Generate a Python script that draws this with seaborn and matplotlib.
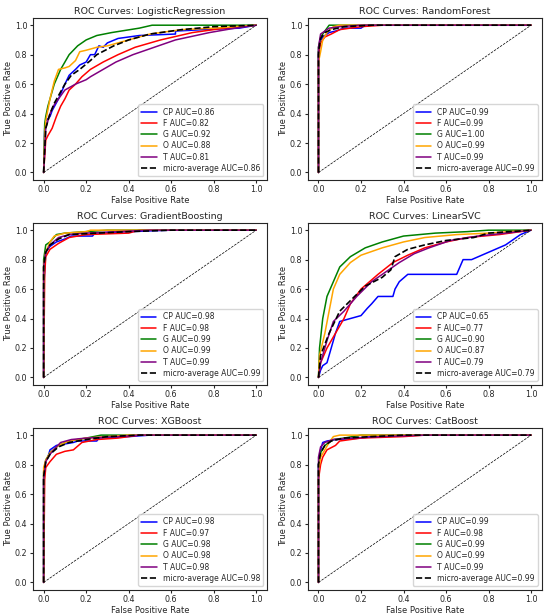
import seaborn as sns
import pandas as pd
import matplotlib
matplotlib.use('Agg')
import matplotlib.pyplot as plt

# models and classes
models = ['LogisticRegression', 'RandomForest', 'GradientBoosting', 'LinearSVC', 'XGBoost', 'CatBoost']
classes = ['CP', 'F', 'G', 'O', 'T']
class_colors = ['blue', 'red', 'green', 'orange', 'purple']

# AUC values read from legends
auc_lr = [0.86, 0.82, 0.92, 0.88, 0.81, 0.86]
auc_rf = [0.99, 0.99, 1.00, 0.99, 0.99, 0.99]
auc_gb = [0.98, 0.98, 0.99, 0.99, 0.99, 0.99]
auc_svc = [0.65, 0.77, 0.90, 0.87, 0.79, 0.79]
auc_xgb = [0.98, 0.97, 0.98, 0.98, 0.98, 0.98]
auc_cat = [0.99, 0.98, 0.99, 0.99, 0.99, 0.99]

# ROC curves as (fpr, tpr), order CP, F, G, O, T, micro
lr_cp = ([0, 0.005, 0.01, 0.03, 0.04, 0.07, 0.1, 0.12, 0.15, 0.17, 0.2, 0.22, 0.24, 0.26, 0.28, 0.3, 0.35, 0.45, 0.62, 0.62, 0.75, 0.92, 1.0],
         [0, 0.3, 0.35, 0.38, 0.42, 0.5, 0.6, 0.66, 0.7, 0.73, 0.75, 0.8, 0.8, 0.86, 0.85, 0.88, 0.91, 0.93, 0.94, 0.96, 0.97, 0.98, 1.0])
lr_f = ([0, 0.01, 0.02, 0.04, 0.06, 0.08, 0.1, 0.12, 0.15, 0.18, 0.22, 0.28, 0.35, 0.43, 0.55, 0.7, 0.85, 1.0],
        [0, 0.22, 0.25, 0.3, 0.38, 0.45, 0.5, 0.56, 0.6, 0.65, 0.7, 0.75, 0.8, 0.85, 0.9, 0.95, 0.98, 1.0])
lr_g = ([0, 0.005, 0.01, 0.02, 0.04, 0.05, 0.08, 0.1, 0.12, 0.14, 0.16, 0.2, 0.25, 0.32, 0.45, 0.51, 1.0],
        [0, 0.33, 0.38, 0.45, 0.55, 0.6, 0.7, 0.75, 0.8, 0.83, 0.86, 0.9, 0.93, 0.95, 0.98, 1.0, 1.0])
lr_o = ([0, 0.005, 0.01, 0.03, 0.05, 0.07, 0.1, 0.12, 0.15, 0.17, 0.2, 0.25, 0.3, 0.4, 0.5, 0.65, 0.8, 1.0],
        [0, 0.25, 0.35, 0.5, 0.62, 0.7, 0.71, 0.72, 0.76, 0.82, 0.83, 0.85, 0.86, 0.9, 0.94, 0.97, 0.98, 1.0])
lr_t = ([0, 0.01, 0.03, 0.05, 0.08, 0.1, 0.15, 0.2, 0.22, 0.28, 0.34, 0.42, 0.52, 0.62, 0.78, 0.9, 1.0],
        [0, 0.3, 0.4, 0.46, 0.52, 0.56, 0.6, 0.63, 0.65, 0.7, 0.75, 0.8, 0.85, 0.9, 0.95, 0.98, 1.0])
lr_micro = ([0, 0.01, 0.03, 0.05, 0.1, 0.13, 0.17, 0.22, 0.25, 0.33, 0.4, 0.5, 0.65, 0.8, 1.0],
            [0, 0.3, 0.4, 0.47, 0.6, 0.66, 0.7, 0.76, 0.8, 0.86, 0.9, 0.94, 0.97, 0.99, 1.0])

rf_cp = ([0, 0, 0.01, 0.03, 0.05, 0.08, 0.12, 0.2, 0.22, 1.0],
         [0, 0.8, 0.9, 0.93, 0.95, 0.96, 0.98, 0.98, 1.0, 1.0])
rf_f = ([0, 0, 0.01, 0.03, 0.06, 0.1, 0.2, 0.3, 1.0],
        [0, 0.8, 0.88, 0.92, 0.94, 0.97, 0.99, 1.0, 1.0])
rf_g = ([0, 0, 0.01, 0.03, 0.05, 1.0],
        [0, 0.85, 0.92, 0.96, 1.0, 1.0])
rf_o = ([0, 0, 0.01, 0.02, 0.04, 0.07, 0.1, 1.0],
        [0, 0.75, 0.82, 0.9, 0.95, 0.99, 1.0, 1.0])
rf_t = ([0, 0, 0.01, 0.03, 0.05, 0.1, 0.2, 1.0],
        [0, 0.85, 0.94, 0.96, 0.98, 0.99, 1.0, 1.0])
rf_micro = ([0, 0, 0.01, 0.03, 0.06, 0.12, 0.25, 1.0],
            [0, 0.82, 0.91, 0.95, 0.97, 0.99, 1.0, 1.0])

gb_cp = ([0, 0, 0.01, 0.03, 0.06, 0.1, 0.13, 0.23, 0.24, 0.4, 0.6, 1.0],
         [0, 0.6, 0.85, 0.89, 0.92, 0.94, 0.96, 0.96, 0.98, 0.99, 1.0, 1.0])
gb_f = ([0, 0.005, 0.01, 0.03, 0.07, 0.12, 0.2, 0.4, 0.45, 1.0],
        [0, 0.7, 0.82, 0.87, 0.91, 0.95, 0.97, 0.98, 1.0, 1.0])
gb_g = ([0, 0, 0.01, 0.03, 0.06, 0.1, 0.2, 0.3, 1.0],
        [0, 0.8, 0.9, 0.92, 0.97, 0.98, 0.99, 1.0, 1.0])
gb_o = ([0, 0, 0.01, 0.03, 0.05, 0.1, 0.2, 0.22, 1.0],
        [0, 0.75, 0.85, 0.92, 0.96, 0.98, 0.99, 1.0, 1.0])
gb_t = ([0, 0, 0.01, 0.03, 0.07, 0.12, 0.2, 0.35, 0.5, 1.0],
        [0, 0.75, 0.85, 0.9, 0.95, 0.97, 0.98, 0.99, 1.0, 1.0])
gb_micro = ([0, 0, 0.01, 0.03, 0.07, 0.12, 0.25, 0.4, 0.6, 1.0],
            [0, 0.75, 0.85, 0.9, 0.94, 0.97, 0.98, 0.99, 1.0, 1.0])

svc_cp = ([0, 0.01, 0.02, 0.04, 0.06, 0.08, 0.1, 0.15, 0.2, 0.23, 0.25, 0.28, 0.35, 0.36, 0.38,
           0.42, 0.65, 0.68, 0.72, 0.8, 0.88, 0.95, 1.0],
          [0, 0.05, 0.08, 0.1, 0.2, 0.3, 0.38, 0.4, 0.42, 0.47, 0.5, 0.55, 0.55, 0.6, 0.65,
           0.7, 0.7, 0.8, 0.8, 0.85, 0.9, 0.97, 1.0])
svc_f = ([0, 0.01, 0.04, 0.08, 0.12, 0.15, 0.2, 0.28, 0.35, 0.42, 0.5, 0.6, 0.7, 0.85, 1.0],
         [0, 0.1, 0.2, 0.3, 0.4, 0.5, 0.6, 0.7, 0.78, 0.83, 0.88, 0.92, 0.95, 0.97, 1.0])
svc_g = ([0, 0.005, 0.02, 0.04, 0.07, 0.1, 0.15, 0.22, 0.3, 0.4, 0.55, 0.7, 0.8, 1.0],
         [0, 0.2, 0.4, 0.55, 0.65, 0.75, 0.82, 0.88, 0.92, 0.96, 0.98, 0.99, 1.0, 1.0])
svc_o = ([0, 0.005, 0.03, 0.05, 0.07, 0.1, 0.15, 0.2, 0.3, 0.4, 0.5, 0.65, 0.8, 1.0],
         [0, 0.15, 0.3, 0.45, 0.6, 0.7, 0.78, 0.83, 0.88, 0.92, 0.95, 0.97, 0.98, 1.0])
svc_t = ([0, 0.01, 0.04, 0.07, 0.12, 0.18, 0.25, 0.32, 0.38, 0.45, 0.52, 0.62, 0.75, 0.88, 1.0],
         [0, 0.1, 0.25, 0.38, 0.45, 0.55, 0.65, 0.72, 0.78, 0.84, 0.88, 0.93, 0.96, 0.98, 1.0])
svc_micro = ([0, 0.01, 0.05, 0.1, 0.17, 0.22, 0.3, 0.34, 0.36, 0.42, 0.5, 0.6, 0.73, 0.8, 1.0],
             [0, 0.15, 0.3, 0.45, 0.55, 0.62, 0.68, 0.73, 0.82, 0.87, 0.9, 0.93, 0.95, 0.98, 1.0])

xgb_cp = ([0, 0, 0.01, 0.02, 0.03, 0.06, 0.14, 0.16, 0.25, 0.26, 0.4, 0.5, 1.0],
          [0, 0.7, 0.83, 0.85, 0.9, 0.93, 0.95, 0.96, 0.96, 0.98, 0.99, 1.0, 1.0])
xgb_f = ([0, 0.005, 0.01, 0.03, 0.06, 0.1, 0.14, 0.18, 0.25, 0.35, 0.45, 1.0],
         [0, 0.7, 0.78, 0.82, 0.87, 0.89, 0.9, 0.95, 0.97, 0.98, 1.0, 1.0])
xgb_g = ([0, 0, 0.01, 0.03, 0.07, 0.12, 0.2, 0.27, 1.0],
         [0, 0.75, 0.83, 0.88, 0.93, 0.96, 0.98, 1.0, 1.0])
xgb_o = ([0, 0, 0.01, 0.03, 0.07, 0.12, 0.2, 0.3, 0.4, 1.0],
         [0, 0.78, 0.83, 0.88, 0.93, 0.96, 0.98, 0.99, 1.0, 1.0])
xgb_t = ([0, 0, 0.01, 0.03, 0.06, 0.08, 0.13, 0.2, 0.35, 0.45, 1.0],
         [0, 0.7, 0.82, 0.87, 0.92, 0.95, 0.97, 0.98, 0.99, 1.0, 1.0])
xgb_micro = ([0, 0, 0.01, 0.03, 0.07, 0.12, 0.2, 0.3, 0.45, 1.0],
             [0, 0.72, 0.82, 0.87, 0.92, 0.95, 0.97, 0.99, 1.0, 1.0])

cat_cp = ([0, 0, 0.01, 0.02, 0.04, 0.08, 0.2, 0.3, 1.0],
          [0, 0.8, 0.9, 0.95, 0.96, 0.97, 0.98, 1.0, 1.0])
cat_f = ([0, 0, 0.01, 0.02, 0.04, 0.08, 0.1, 0.2, 0.4, 0.5, 1.0],
         [0, 0.7, 0.8, 0.85, 0.9, 0.93, 0.96, 0.98, 0.99, 1.0, 1.0])
cat_g = ([0, 0, 0.01, 0.03, 0.07, 0.12, 0.2, 1.0],
         [0, 0.8, 0.88, 0.93, 0.97, 0.98, 1.0, 1.0])
cat_o = ([0, 0, 0.01, 0.03, 0.05, 0.07, 0.1, 1.0],
         [0, 0.75, 0.85, 0.9, 0.95, 0.99, 1.0, 1.0])
cat_t = ([0, 0, 0.01, 0.03, 0.07, 0.15, 0.3, 0.5, 1.0],
         [0, 0.85, 0.92, 0.95, 0.97, 0.98, 0.99, 1.0, 1.0])
cat_micro = ([0, 0, 0.01, 0.03, 0.06, 0.12, 0.25, 0.4, 1.0],
             [0, 0.8, 0.88, 0.93, 0.96, 0.98, 0.99, 1.0, 1.0])

curves = {
    'LogisticRegression': ([lr_cp, lr_f, lr_g, lr_o, lr_t, lr_micro], auc_lr),
    'RandomForest': ([rf_cp, rf_f, rf_g, rf_o, rf_t, rf_micro], auc_rf),
    'GradientBoosting': ([gb_cp, gb_f, gb_g, gb_o, gb_t, gb_micro], auc_gb),
    'LinearSVC': ([svc_cp, svc_f, svc_g, svc_o, svc_t, svc_micro], auc_svc),
    'XGBoost': ([xgb_cp, xgb_f, xgb_g, xgb_o, xgb_t, xgb_micro], auc_xgb),
    'CatBoost': ([cat_cp, cat_f, cat_g, cat_o, cat_t, cat_micro], auc_cat),
}

sns.set_style('white')
plt.rcParams['font.family'] = ['DejaVu Sans']

fig, axes = plt.subplots(3, 2, figsize=(5.5, 6.15), dpi=100)
fig.subplots_adjust(left=0.06, right=0.985, top=0.971, bottom=0.041, wspace=0.175, hspace=0.265)

for ax, model in zip(axes.flat, models):
    rocs, aucs = curves[model]
    for i, cls in enumerate(classes):
        fpr, tpr = rocs[i]
        df = pd.DataFrame({'fpr': fpr, 'tpr': tpr})
        sns.lineplot(data=df, x='fpr', y='tpr', ax=ax, sort=False, estimator=None,
                     color=class_colors[i], lw=1.1, label=f'{cls} AUC={aucs[i]:.2f}')
    fpr, tpr = rocs[5]
    df = pd.DataFrame({'fpr': fpr, 'tpr': tpr})
    sns.lineplot(data=df, x='fpr', y='tpr', ax=ax, sort=False, estimator=None,
                 color='black', lw=1.2, linestyle='--', label=f'micro-average AUC={aucs[5]:.2f}')
    ax.plot([0, 1], [0, 1], 'k--', lw=0.5)
    ax.set_title(f'ROC Curves: {model}', fontsize=6.8, pad=3)
    ax.set_xlabel('False Positive Rate', fontsize=6.0, labelpad=1)
    ax.set_ylabel('True Positive Rate', fontsize=6.0, labelpad=1)
    ax.set_xticks([0, 0.2, 0.4, 0.6, 0.8, 1.0])
    ax.set_yticks([0, 0.2, 0.4, 0.6, 0.8, 1.0])
    ax.tick_params(labelsize=5.8, length=2.5, pad=1.5, left=True, bottom=True)
    ax.legend(loc='lower right', fontsize=5.5, handlelength=2.0, labelspacing=0.3)

plt.savefig('out.png', dpi=100)
